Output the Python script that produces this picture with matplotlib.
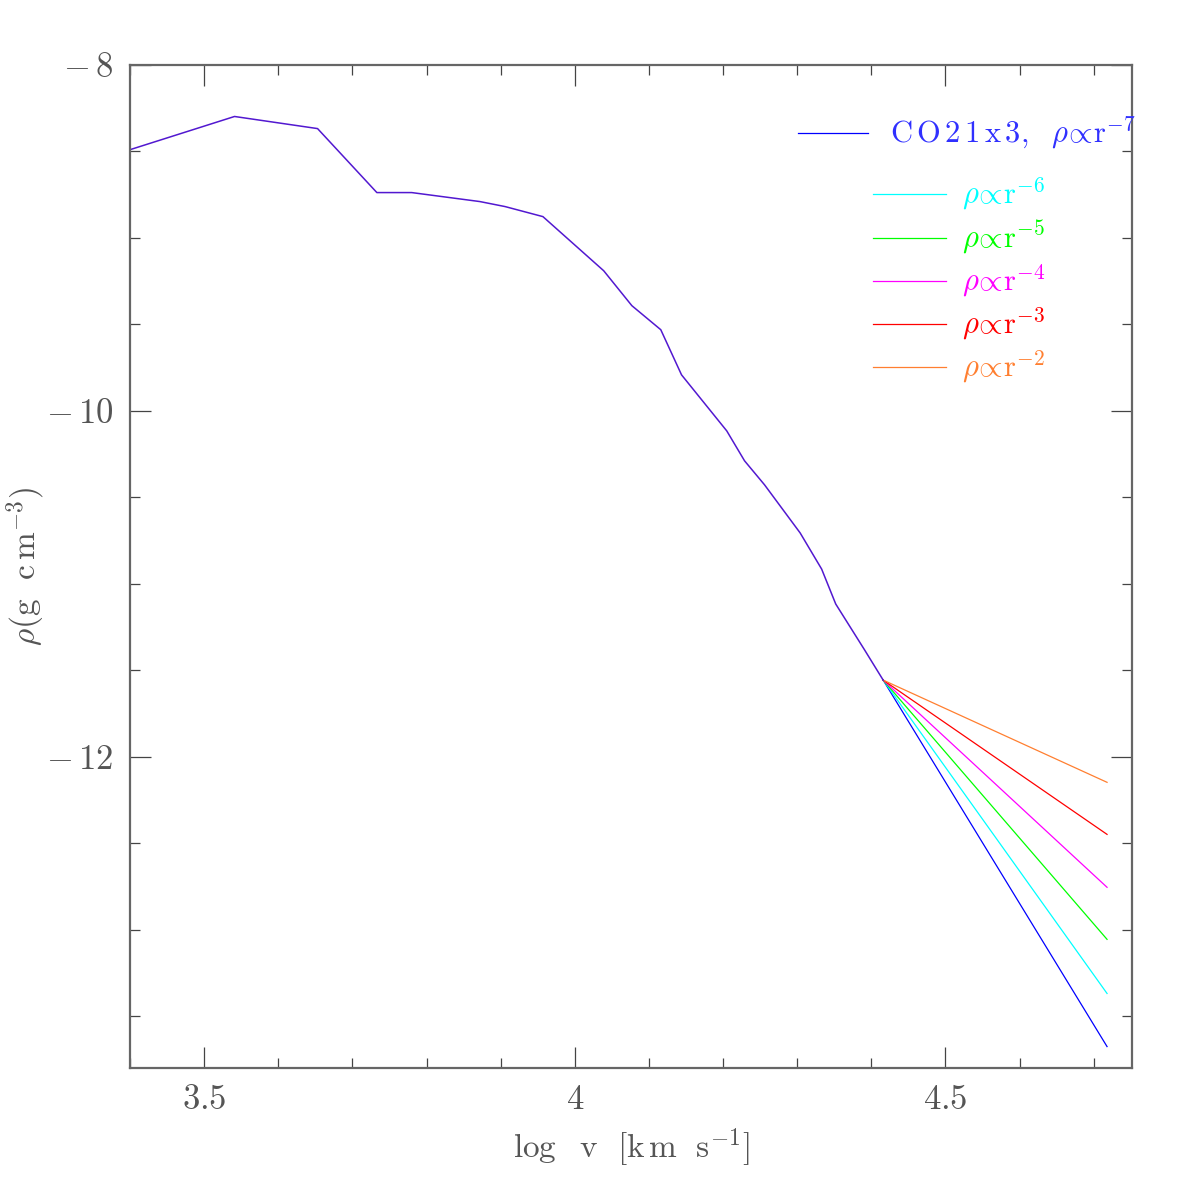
import matplotlib
matplotlib.use("Agg")
import matplotlib.pyplot as plt
from matplotlib.ticker import MultipleLocator, FixedLocator, FixedFormatter

plt.rcParams['mathtext.fontset'] = 'cm'
plt.rcParams['font.family'] = 'serif'
plt.rcParams['font.serif'] = ['cmr10', 'DejaVu Serif']
plt.rcParams['axes.formatter.use_mathtext'] = True

# common density profile (log v, log rho)
logv = [3.400, 3.541, 3.653, 3.733, 3.780, 3.872, 3.906, 3.957, 4.039, 4.077,
        4.116, 4.144, 4.205, 4.229, 4.256, 4.304, 4.333, 4.352, 4.391, 4.416]
logrho = [-8.49, -8.298, -8.368, -8.738, -8.738, -8.790, -8.819, -8.877, -9.190, -9.392,
          -9.531, -9.792, -10.116, -10.289, -10.428, -10.706, -10.915, -11.117, -11.383, -11.557]

# outer power-law extensions
ext_end_logv = 4.718
ext_labels = [r'$\mathrm{C\,O\,2\,1\,x\,3},\ \ \rho\!\propto\!\mathrm{r}^{-7}$',
              r'$\rho\!\propto\!\mathrm{r}^{-6}$',
              r'$\rho\!\propto\!\mathrm{r}^{-5}$',
              r'$\rho\!\propto\!\mathrm{r}^{-4}$',
              r'$\rho\!\propto\!\mathrm{r}^{-3}$',
              r'$\rho\!\propto\!\mathrm{r}^{-2}$']
ext_end_logrho = [-13.676, -13.369, -13.056, -12.755, -12.449, -12.148]
ext_colors = ['#0000ff', '#00ffff', '#00ff00', '#ff00ff', '#ff0000', '#ff7f30']

xticks = [3.5, 4.0, 4.5]
xticklabels = [r'$3.5$', r'$4$', r'$4.5$']
yticks = [-8, -10, -12]
yticklabels = [r'$-\,8$', r'$-\,10$', r'$-\,12$']

fig = plt.figure(figsize=(11.96, 11.96), dpi=100)
ax = fig.add_axes([0.1087, 0.107, 0.838, 0.8387])

for yend, c in zip(ext_end_logrho, ext_colors):
    ax.plot([logv[-1], ext_end_logv], [logrho[-1], yend], color=c, lw=0.9)
ax.plot(logv, logrho, color='#5218d0', lw=1.1)

ax.set_xlim(3.4, 4.752)
ax.set_ylim(-13.8, -8)

gray = '#555555'
ax.xaxis.set_major_locator(FixedLocator(xticks))
ax.xaxis.set_major_formatter(FixedFormatter(xticklabels))
ax.yaxis.set_major_locator(FixedLocator(yticks))
ax.yaxis.set_major_formatter(FixedFormatter(yticklabels))
ax.xaxis.set_minor_locator(MultipleLocator(0.1))
ax.yaxis.set_minor_locator(MultipleLocator(0.5))
ax.tick_params(which='both', direction='in', top=True, right=True, colors='#444444',
               labelcolor=gray, labelsize=25)
ax.tick_params(which='major', length=15, width=0.9, pad=12)
ax.tick_params(which='minor', length=7.5, width=0.9)
for s in ax.spines.values():
    s.set_color('#666666')
    s.set_linewidth(1.6)

ax.set_xlabel(r'$\log\ \ \mathrm{v}\ \ [\mathrm{k\,m}\ \ \mathrm{s}^{-1}]$', fontsize=24,
              color=gray)
ax.xaxis.set_label_coords(0.5, -0.058)
ax.set_ylabel(r'$\rho(\mathrm{g}\ \ \mathrm{c\,m}^{-3})$', fontsize=24, color=gray)
ax.yaxis.set_label_coords(-0.083, 0.5)

# legend drawn manually in axes coordinates
leg_y = [133, 194, 238, 281, 324, 367]
for i, (lab, c) in enumerate(zip(ext_labels, ext_colors)):
    yy = 1 - (leg_y[i] - 65) / 1003.0
    if i == 0:
        x0, x1, xt = (798 - 130) / 1002.0, (868 - 130) / 1002.0, (890 - 130) / 1002.0
    else:
        x0, x1, xt = (873 - 130) / 1002.0, (946 - 130) / 1002.0, (962 - 130) / 1002.0
    ax.plot([x0, x1], [yy, yy], color=c, lw=0.9, transform=ax.transAxes)
    tc = c if c != '#0000ff' else '#3030ff'
    ax.text(xt, yy, lab, color=tc, fontsize=22, va='center', ha='left',
            transform=ax.transAxes)

fig.savefig('out.png', dpi=100)
